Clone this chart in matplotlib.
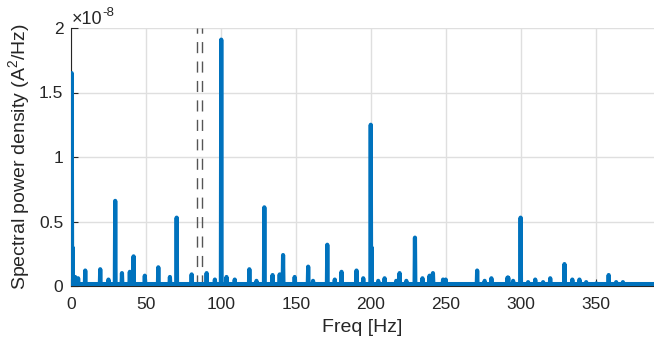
import numpy as np
import matplotlib
matplotlib.use('Agg')
import matplotlib.pyplot as plt
import matplotlib.ticker as mticker

plt.rcParams['font.family'] = ['Liberation Sans', 'DejaVu Sans']
plt.rcParams['mathtext.default'] = 'regular'

# peaks of the spectrum, values in units of 1e-8 A^2/Hz
peak_freqs = [0.5, 1.0, 2.7, 4.7, 9.5, 19.5, 25.0, 29.5, 34.0, 39.3, 41.8, 49.3,
              58.2, 66.0, 70.4, 80.4, 90.4, 96.0, 100.2, 103.8, 109.3, 119.0,
              123.8, 129.0, 134.4, 139.3, 141.6, 149.3, 158.2, 161.6, 171.1,
              176.0, 180.4, 190.4, 194.9, 200.0, 200.5, 204.9, 209.3, 217.0,
              219.3, 223.8, 229.5, 234.4, 239.3, 241.6, 248.2, 250.0, 271.1,
              276.0, 280.4, 291.3, 291.8, 294.9, 300.0, 304.9, 309.8, 314.9,
              319.8, 329.3, 334.4, 339.3, 343.8, 350.4, 358.7, 363.8, 368.2]
peak_heights = [1.65, 0.30, 0.07, 0.06, 0.12, 0.13, 0.05, 0.66, 0.10, 0.11, 0.23, 0.08,
                0.145, 0.07, 0.53, 0.09, 0.10, 0.05, 1.91, 0.07, 0.05, 0.13,
                0.04, 0.61, 0.085, 0.09, 0.24, 0.07, 0.15, 0.04, 0.32,
                0.05, 0.11, 0.12, 0.06, 1.25, 0.30, 0.04, 0.06, 0.04,
                0.10, 0.04, 0.375, 0.06, 0.08, 0.10, 0.05, 0.05, 0.12,
                0.04, 0.06, 0.065, 0.065, 0.04, 0.53, 0.03, 0.05, 0.03,
                0.06, 0.17, 0.05, 0.05, 0.03, 0.02, 0.085, 0.03, 0.03]
floor_level = 0.015
marker_freqs = [84.2, 87.5]

freq = np.arange(0, 390.01, 0.25)
psd = np.full(freq.shape, floor_level)
for f, h in zip(peak_freqs, peak_heights):
    psd[np.argmin(np.abs(freq - f))] = h

fig = plt.figure(figsize=(6.54, 3.42), dpi=100)
ax = fig.add_axes([71 / 654, 56 / 342, 1 - 71 / 654, 258 / 342])

ax.plot(freq, psd, color='#0072BD', lw=3, solid_joinstyle='round', zorder=3)
for f in marker_freqs:
    ax.axvline(f, color='#555555', lw=1, ls=(0, (8, 6)), zorder=2)

ax.set_xlim(0, 389)
ax.set_ylim(0, 2)
ax.set_xticks(np.arange(0, 351, 50))
ax.set_yticks([0, 0.5, 1, 1.5, 2])
ax.yaxis.set_major_formatter(mticker.FormatStrFormatter('%g'))
ax.grid(True, color='#dfdfdf', lw=1)
ax.set_axisbelow(True)
for s in ['top', 'right']:
    ax.spines[s].set_visible(False)
for s in ['left', 'bottom']:
    ax.spines[s].set_color('#262626')
ax.tick_params(direction='in', length=5, colors='#262626', labelsize=12.5)
ax.tick_params(axis='x', pad=8)
ax.tick_params(axis='y', pad=5.5)

ax.set_xlabel('Freq [Hz]', fontsize=14, color='#262626', labelpad=5)
ax.set_ylabel('Spectral power density (A$^{2}$/Hz)', fontsize=14, color='#262626', labelpad=5)

# exponent label, drawn by hand in the MATLAB style
fig.text(72 / 654, 1 - 24 / 342, '×10', fontsize=13, color='#262626')
fig.text(102 / 654, 1 - 16 / 342, '-8', fontsize=9.5, color='#262626')

fig.savefig('out.png', dpi=100)
